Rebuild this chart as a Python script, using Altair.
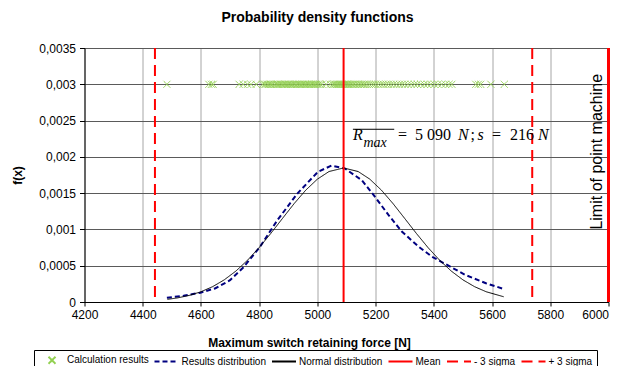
import altair as alt
import pandas as pd

# ---------------- data ----------------
calc_x = [4483, 4627, 4636, 4642, 4731, 4745, 4760, 4772, 4790,
          4812, 4818, 4822, 4828, 4833, 4838, 4842, 4847, 4853, 4858, 4862, 4866,
          4871, 4876, 4880, 4885, 4889, 4893, 4898, 4902, 4907, 4911, 4915, 4920,
          4924, 4929, 4933, 4938, 4941, 4946, 4950, 4955, 4959, 4963, 4968, 4972,
          4977, 4981, 4986, 4990, 4994, 4999,
          5004, 5010, 5016, 5030, 5044, 5052, 5057, 5061, 5066, 5070, 5074, 5078,
          5082, 5086, 5090, 5094, 5098, 5102, 5106, 5110, 5115, 5120, 5125, 5130,
          5136, 5141, 5147, 5152, 5158, 5163,
          5170, 5178, 5186, 5193, 5200, 5209, 5218, 5226, 5236, 5244, 5253, 5262,
          5272, 5282, 5291, 5300, 5311, 5322, 5333, 5343, 5355, 5367, 5378, 5390,
          5402, 5414, 5427, 5440, 5452, 5462,
          5544, 5553, 5561, 5596, 5642]
calc_level = 0.003

res_x = [4483, 4540, 4598, 4650, 4700, 4748, 4803, 4863, 4932, 5002, 5048,
         5094, 5152, 5198, 5244, 5290, 5348, 5394, 5446, 5509, 5579, 5644]
res_f = [0.000059, 0.000085, 0.000128, 0.000190, 0.000300, 0.000487, 0.000762,
         0.00113, 0.001498, 0.001795, 0.001878, 0.00184, 0.00168, 0.00145,
         0.0012, 0.00097, 0.000762, 0.000624, 0.00051, 0.000372, 0.000258, 0.000175]

norm_x = [4485, 4520, 4560, 4600, 4640, 4680, 4720, 4760, 4800, 4840, 4880,
          4920, 4960, 5000, 5040, 5090, 5140, 5180, 5220, 5260, 5300, 5340,
          5380, 5420, 5460, 5500, 5540, 5580, 5640]
norm_f = [0.0000365, 0.0000568, 0.000091, 0.000141, 0.000211, 0.000305, 0.000426,
          0.000575, 0.00075, 0.000945, 0.001151, 0.001355, 0.001541, 0.001693,
          0.001798, 0.001847, 0.001798, 0.001693, 0.001541, 0.001355, 0.001151,
          0.000945, 0.00075, 0.000575, 0.000426, 0.000305, 0.000211, 0.000141,
          0.0000722]

rule_names = ["Mean", "- 3 sigma", "+ 3 sigma"]
rule_x = [5090, 4442, 5738]
limit_x = [6000]

series = ["Calculation results", "Results distribution", "Normal distribution",
          "Mean", "- 3 sigma", "+ 3 sigma"]

x_ticks = [4200, 4400, 4600, 4800, 5000, 5200, 5400, 5600, 5800, 6000]
y_ticks = [0, 0.0005, 0.001, 0.0015, 0.002, 0.0025, 0.003, 0.0035]

# annotation pieces (data coordinates)
ann_italic_text = ["R", "N", "s", "N"]
ann_italic_x = [5122, 5483, 5550, 5758]
ann_upright_text = ["=", "5 090", ";", "=", "216"]
ann_upright_x = [5277, 5335, 5526, 5600, 5662]
ann_sub_text = ["max"]
ann_sub_x = [5158]
ann_y = 0.002232
ann_sub_y = 0.002132
overline_x = [5122]
overline_x2 = [5264]
overline_y = [0.00238]

limit_label = ["Limit of point machine"]
limit_label_x = [5961]
limit_label_y = [0.00207]

# ---------------- styles ----------------
colors = ["#92D050", "#000080", "#000000", "#FF0000", "#FF0000", "#FF0000"]
dashes = [[1, 0], [5, 3], [1, 0], [1, 0], [11, 6], [11, 6]]
xpath = "M-0.7,-0.7L0.7,0.7M0.7,-0.7L-0.7,0.7"
lpath = "M-2.4,0L2.4,0"
shapes = [xpath, lpath, lpath, lpath, lpath, lpath]

FONT = "Liberation Sans"

color_scale = alt.Scale(domain=series, range=colors)
dash_scale = alt.Scale(domain=series, range=dashes)
shape_scale = alt.Scale(domain=series, range=shapes)

legend = alt.Legend(
    title=None, orient="none", legendX=-50.5, legendY=302,
    direction="horizontal", columns=6, symbolSize=100, symbolType=lpath,
    labelFont=FONT, labelFontSize=10, labelColor="black",
    strokeColor="black", padding=4, columnPadding=1.5,
    symbolOffset=8, labelOffset=9,
    cornerRadius=0, symbolStrokeWidth=2,
)

x_scale = alt.Scale(domain=[4200, 6000], nice=False, zero=False)
y_scale = alt.Scale(domain=[0, 0.0035], nice=False)

x_axis = alt.Axis(
    values=x_ticks, format="d", title="Maximum switch retaining force [N]",
    titleFont=FONT, titleFontSize=12, titleFontWeight="bold", titleColor="black",
    titleX=224.5, titleY=40, titleAlign="center", titleBaseline="middle",
    labelFont=FONT, labelFontSize=12, labelColor="black", labelPadding=3,
    labelFlush=False, labelOverlap=False,
    labelAlign={"condition": {"test": "datum.value == 6000", "value": "right"},
                "value": "center"},
    domainColor="black", tickColor="black", tickSize=4,
    grid=True, gridColor="#a6a6a6", gridWidth=1,
)
y_axis = alt.Axis(
    values=y_ticks, labelExpr="replace(format(datum.value, '.4~f'), '.', ',')",
    title="f(x)", titleFont=FONT, titleFontSize=12, titleFontWeight="bold",
    titleColor="black", titleX=-67, titleY=127, titleAngle=270,
    titleAlign="center", titleBaseline="middle",
    labelFont=FONT, labelFontSize=12, labelColor="black", labelPadding=4,
    labelFlush=False, labelOverlap=False,
    domainColor="black", tickColor="black", tickSize=5,
    grid=True, gridColor="#5a5a5a", gridWidth=1,
)

# ---------------- tables ----------------
df_calc = pd.DataFrame({"x": calc_x, "f": [calc_level] * len(calc_x),
                        "series": "Calculation results"})
df_res = pd.DataFrame({"x": res_x, "f": res_f, "series": "Results distribution"})
df_norm = pd.DataFrame({"x": norm_x, "f": norm_f, "series": "Normal distribution"})
df_rules = pd.DataFrame({"x": rule_x, "series": rule_names})
df_limit = pd.DataFrame({"x": limit_x})
df_it = pd.DataFrame({"x": ann_italic_x, "f": ann_y, "t": ann_italic_text})
df_up = pd.DataFrame({"x": ann_upright_x, "f": ann_y, "t": ann_upright_text})
df_sub = pd.DataFrame({"x": ann_sub_x, "f": ann_sub_y, "t": ann_sub_text})
df_over = pd.DataFrame({"x": overline_x, "x2": overline_x2, "f": overline_y})
df_lim_lab = pd.DataFrame({"x": limit_label_x, "f": limit_label_y, "t": limit_label})

X = alt.X("x:Q", scale=x_scale, axis=x_axis)
Y = alt.Y("f:Q", scale=y_scale, axis=y_axis)

enc_color = alt.Color("series:N", scale=color_scale, legend=legend)
enc_dash = alt.StrokeDash("series:N", scale=dash_scale, legend=legend)
enc_shape = alt.Shape("series:N", scale=shape_scale, legend=legend)

line_res = alt.Chart(df_res).mark_line(strokeWidth=2).encode(
    x=X, y=Y, color=enc_color, strokeDash=enc_dash, order=alt.Order("x:Q"))
line_norm = alt.Chart(df_norm).mark_line(strokeWidth=1).encode(
    x=X, y=Y, color=enc_color, strokeDash=enc_dash, order=alt.Order("x:Q"))

points = alt.Chart(df_calc).mark_point(
    filled=False, size=100, opacity=1, strokeWidth=1).encode(
    x=X, y=Y, color=enc_color, shape=enc_shape, strokeDash=enc_dash)

rules = alt.Chart(df_rules).mark_rule(strokeWidth=2).encode(
    x=X, color=enc_color, strokeDash=enc_dash)

limit = alt.Chart(df_limit).mark_rule(color="#FF0000", strokeWidth=3).encode(x=X)

serif = "Liberation Serif"
txt_it = alt.Chart(df_it).mark_text(
    font=serif, fontSize=16, fontStyle="italic", align="left",
    baseline="alphabetic", color="black").encode(x=X, y=Y, text="t:N")
txt_up = alt.Chart(df_up).mark_text(
    font=serif, fontSize=16, align="left",
    baseline="alphabetic", color="black").encode(x=X, y=Y, text="t:N")
txt_sub = alt.Chart(df_sub).mark_text(
    font=serif, fontSize=14, fontStyle="italic", align="left",
    baseline="alphabetic", color="black").encode(x=X, y=Y, text="t:N")
over = alt.Chart(df_over).mark_rule(color="black", strokeWidth=1).encode(
    x=X, x2="x2:Q", y=Y)
lim_lab = alt.Chart(df_lim_lab).mark_text(
    font=FONT, fontSize=16, angle=270, align="center", baseline="middle",
    color="black").encode(x=X, y=Y, text="t:N")

chart = alt.layer(
    line_res, line_norm, points, rules, limit, over, txt_it, txt_up, txt_sub, lim_lab
).properties(
    width=524, height=254,
    title=alt.TitleParams(
        "Probability density functions", font=FONT, fontSize=14,
        fontWeight="bold", color="black", dx=-29, offset=17,
        frame="group", anchor="middle"),
    autosize=alt.AutoSizeParams(type="none"),
    padding={"left": 76.5, "top": 40, "right": 4.5, "bottom": 64},
).configure_view(stroke="transparent").configure(background="white")

chart.save("out.html", embed_options={"renderer": "svg", "actions": False})
